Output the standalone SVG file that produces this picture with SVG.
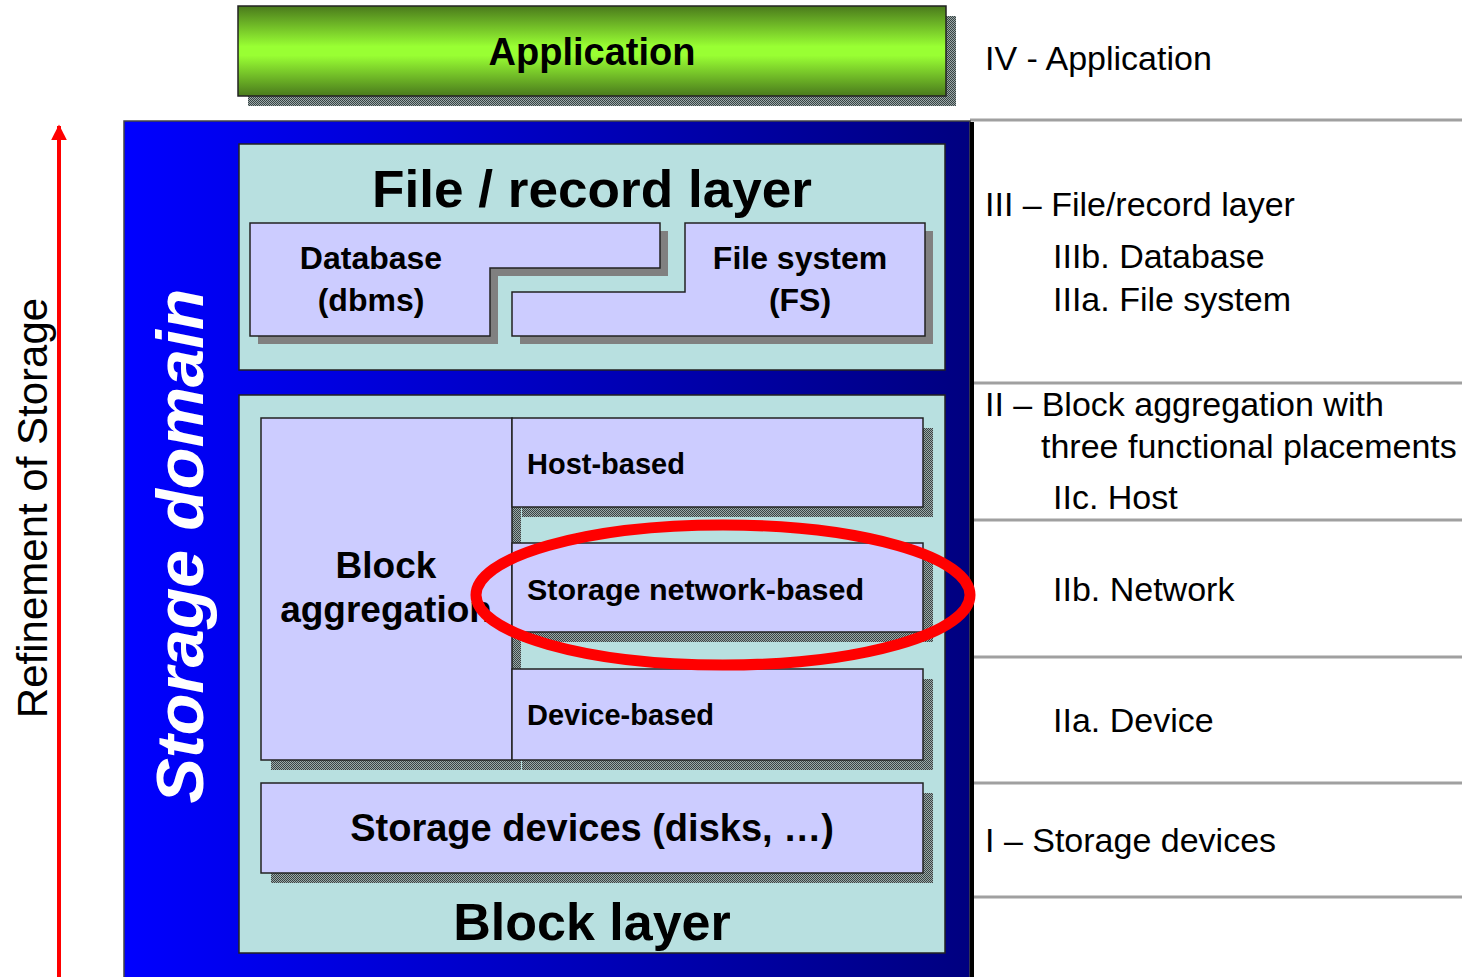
<svg xmlns="http://www.w3.org/2000/svg" width="1471" height="977" viewBox="0 0 1471 977">
<defs>
<linearGradient id="gGreen" x1="0" y1="0" x2="0" y2="1">
<stop offset="0" stop-color="#4a7a1c"/>
<stop offset="0.45" stop-color="#99ff33"/>
<stop offset="0.55" stop-color="#99ff33"/>
<stop offset="1" stop-color="#4a7a1c"/>
</linearGradient>
<linearGradient id="gBlue" x1="0" y1="0" x2="1" y2="0">
<stop offset="0" stop-color="#0000ff"/>
<stop offset="1" stop-color="#000080"/>
</linearGradient>
<pattern id="dither" width="2" height="2" patternUnits="userSpaceOnUse">
<rect width="2" height="2" fill="#9aa8a8"/>
<rect width="1" height="1" fill="#3a4444"/>
<rect x="1" y="1" width="1" height="1" fill="#3a4444"/>
</pattern>
<marker id="arrowRed" viewBox="0 0 10 10" refX="9" refY="5" markerWidth="4" markerHeight="4" orient="auto">
<path d="M0,0 L10,5 L0,10 z" fill="#ff0000"/>
</marker>
<style>
.box{fill:#ccccff;stroke:#222;stroke-width:1.5}
.layer{fill:#b8e0e0;stroke:#222;stroke-width:1.5}
.dsh{fill:url(#dither)}
.gsh{fill:#808080}
.bt{font-family:"Liberation Sans",Arial,sans-serif;font-weight:bold;fill:#000}
.rt{font-family:"Liberation Sans",Arial,sans-serif;font-size:34px;fill:#000}
.sep{stroke:#a0a0a0;stroke-width:3}
</style>
</defs>
<rect width="1471" height="977" fill="#ffffff"/>

<g id="separators">
<line class="sep" x1="970" y1="120" x2="1462" y2="120"/>
<line class="sep" x1="974" y1="383" x2="1462" y2="383"/>
<line class="sep" x1="974" y1="520" x2="1462" y2="520"/>
<line class="sep" x1="974" y1="657" x2="1462" y2="657"/>
<line class="sep" x1="974" y1="783" x2="1462" y2="783"/>
<line class="sep" x1="974" y1="897" x2="1462" y2="897"/>
</g>

<g id="application">
<rect class="dsh" x="248" y="16" width="708" height="90"/>
<rect x="238" y="6" width="708" height="90" fill="url(#gGreen)" stroke="#222" stroke-width="1.5"/>
<text class="bt" x="592" y="65" font-size="38" text-anchor="middle">Application</text>
</g>

<g id="storage-domain">
<rect x="124" y="121" width="846" height="860" fill="url(#gBlue)" stroke="#444" stroke-width="1.5"/>
<rect x="970" y="122" width="4" height="855" fill="#000"/>
<text class="bt" transform="translate(203,546) rotate(-90)" font-size="66" font-style="italic" style="fill:#fff" text-anchor="middle" textLength="515" lengthAdjust="spacingAndGlyphs">Storage domain</text>
</g>

<g id="file-record-layer">
<rect class="layer" x="239" y="144" width="706" height="226"/>
<text class="bt" x="592" y="207" font-size="52" text-anchor="middle" textLength="440" lengthAdjust="spacingAndGlyphs">File / record layer</text>
</g>

<g id="database">
<polygon class="gsh" points="258,231 668,231 668,276 498,276 498,344 258,344"/>
<polygon class="box" points="250,223 660,223 660,268 490,268 490,336 250,336"/>
<text class="bt" x="371" y="269" font-size="32" text-anchor="middle">Database</text>
<text class="bt" x="371" y="311" font-size="32" text-anchor="middle">(dbms)</text>
</g>

<g id="file-system">
<polygon class="gsh" points="693,231 933,231 933,344 520,344 520,300 693,300"/>
<polygon class="box" points="685,223 925,223 925,336 512,336 512,292 685,292"/>
<text class="bt" x="800" y="269" font-size="32" text-anchor="middle">File system</text>
<text class="bt" x="800" y="311" font-size="32" text-anchor="middle">(FS)</text>
</g>

<g id="block-layer">
<rect class="layer" x="239" y="395" width="706" height="558"/>
<text class="bt" x="592" y="940" font-size="52" text-anchor="middle">Block layer</text>
</g>

<g id="shadows">
<rect class="dsh" x="271" y="428" width="250" height="342"/>
<rect class="dsh" x="522" y="428" width="411" height="89"/>
<rect class="dsh" x="522" y="553" width="411" height="89"/>
<rect class="dsh" x="522" y="679" width="411" height="91"/>
<rect class="dsh" x="271" y="793" width="662" height="90"/>
</g>

<g id="block-aggregation">
<rect class="box" x="261" y="418" width="251" height="342"/>
<text class="bt" x="386" y="578" font-size="37" text-anchor="middle">Block</text>
<text class="bt" x="386" y="622" font-size="37" text-anchor="middle">aggregation</text>
</g>

<g id="host-based">
<rect class="box" x="512" y="418" width="411" height="89"/>
<text class="bt" x="527" y="474" font-size="29">Host-based</text>
</g>

<g id="storage-network-based">
<rect class="box" x="512" y="543" width="411" height="89"/>
<text class="bt" x="527" y="600" font-size="29" textLength="337" lengthAdjust="spacingAndGlyphs">Storage network-based</text>
</g>

<g id="device-based">
<rect class="box" x="512" y="669" width="411" height="91"/>
<text class="bt" x="527" y="725" font-size="29">Device-based</text>
</g>

<g id="storage-devices">
<rect class="box" x="261" y="783" width="662" height="90"/>
<text class="bt" x="592" y="841" font-size="38" text-anchor="middle">Storage devices (disks, …)</text>
</g>

<g id="highlight">
<ellipse cx="723" cy="595" rx="247" ry="70" fill="none" stroke="#ff0000" stroke-width="11"/>
</g>

<g id="connectors">
<line x1="59" y1="977" x2="59" y2="126" stroke="#ff0000" stroke-width="4" marker-end="url(#arrowRed)"/>
</g>

<g id="refinement-label">
<text transform="translate(47,508) rotate(-90)" font-family="'Liberation Sans',Arial,sans-serif" font-size="42" text-anchor="middle" fill="#000">Refinement of Storage</text>
</g>

<g id="level-labels">
<text class="rt" x="985" y="70">IV - Application</text>
<text class="rt" x="985" y="216">III – File/record layer</text>
<text class="rt" x="1053" y="268">IIIb. Database</text>
<text class="rt" x="1053" y="311">IIIa. File system</text>
<text class="rt" x="985" y="416">II – Block aggregation with</text>
<text class="rt" x="1041" y="458">three functional placements</text>
<text class="rt" x="1053" y="509">IIc. Host</text>
<text class="rt" x="1053" y="601">IIb. Network</text>
<text class="rt" x="1053" y="732">IIa. Device</text>
<text class="rt" x="985" y="852">I – Storage devices</text>
</g>
</svg>
